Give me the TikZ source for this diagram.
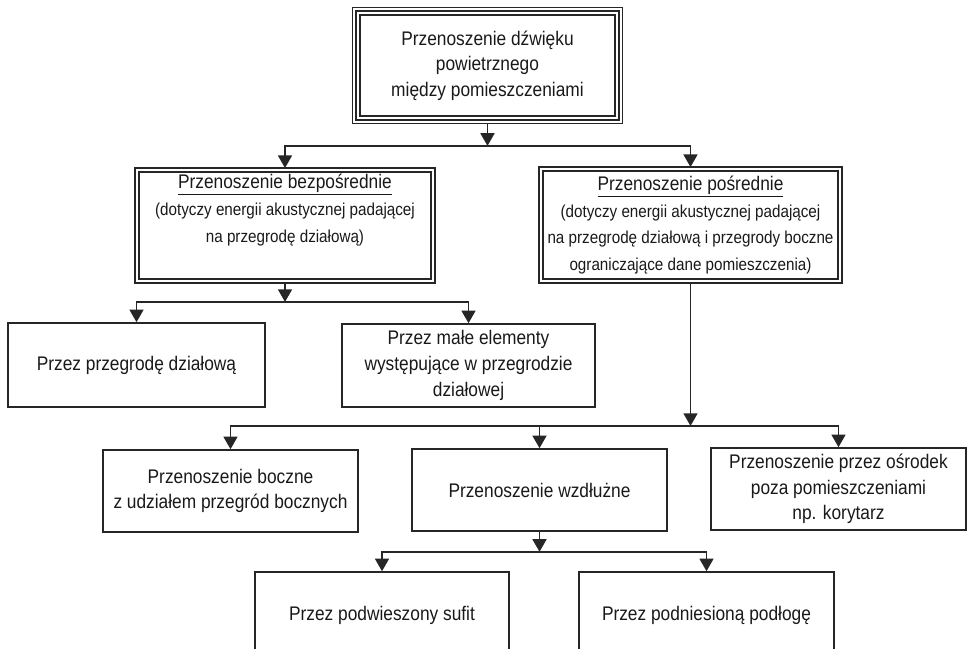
\documentclass[tikz,border=0pt]{standalone}
\usepackage{fontspec}
\setmainfont{Liberation Sans}[FakeStretch=0.88]
\usetikzlibrary{arrows.meta}
\newcommand{\bigtxt}{\fontsize{14}{18.2}\selectfont}
\newcommand{\smalltxt}{\fontsize{12.3}{19}\selectfont}
\tikzstyle{plainbox} = [rectangle, draw=black!85, line width=1.1pt, inner sep=0pt, align=center, font=\bigtxt, text=black!90]
\tikzstyle{doublebox} = [plainbox, line width=0.8pt, outer sep=0pt, font=\smalltxt]
\tikzstyle{frameline} = [draw=black!85, line width=0.8pt]
\tikzstyle{arrowline} = [draw=black!85, line width=1.1pt, -{Triangle[width=10pt,length=9pt]}]
\newcommand{\frameit}[2]{\draw [frameline] ([shift={(-#2,#2)}]#1.north west) rectangle ([shift={(#2,-#2)}]#1.south east);}

\begin{document}
\begin{tikzpicture}[x=0.025cm, y=-0.025cm]
	\clip (0,0) rectangle (967,649);
	% top level
	\node [doublebox, font=\bigtxt, minimum width=6.375cm, minimum height=2.525cm] (top) at (487.5,65.5)
		{Przenoszenie dźwięku\\ powietrznego\\ między pomieszczeniami};
	\frameit{top}{2.8pt}
	\frameit{top}{5.6pt}
	% second level
	\node [doublebox, minimum width=7.3cm, minimum height=2.675cm] (direct) at (285,225.5)
		{{\bigtxt\underline{Przenoszenie bezpośrednie}}\\ (dotyczy energii akustycznej padającej\\ na przegrodę działową)\\ \strut};
	\frameit{direct}{2.8pt}
	\node [doublebox, minimum width=7.375cm, minimum height=2.7cm] (indirect) at (690.5,225)
		{{\bigtxt\underline{Przenoszenie pośrednie}}\\ (dotyczy energii akustycznej padającej\\ na przegrodę działową i przegrody boczne\\ ograniczające dane pomieszczenia)};
	\frameit{indirect}{2.8pt}
	% third level
	\node [plainbox, minimum width=6.425cm, minimum height=2.1cm] (wall) at (136.5,365) {Przez przegrodę działową};
	\node [plainbox, minimum width=6.325cm, minimum height=2.075cm] (elements) at (468.5,365.5)
		{Przez małe elementy\\ występujące w przegrodzie\\ działowej};
	\node [plainbox, minimum width=6.375cm, minimum height=2.05cm] (side) at (230.5,491)
		{Przenoszenie boczne\\ z udziałem przegród bocznych};
	\node [plainbox, minimum width=6.375cm, minimum height=2.05cm] (along) at (539.5,490) {Przenoszenie wzdłużne};
	\node [plainbox, minimum width=6.375cm, minimum height=2.05cm] (medium) at (838.5,489)
		{Przenoszenie przez ośrodek\\ poza pomieszczeniami\\ np. korytarz};
	% bottom level
	\node [plainbox, minimum width=6.35cm, minimum height=2.15cm] (ceiling) at (382,615) {Przez podwieszony sufit};
	\node [plainbox, minimum width=6.375cm, minimum height=2.15cm] (floor) at (706.5,615) {Przez podniesioną podłogę};
	% connectors
	\draw [arrowline] ([yshift=-5.6pt]top.south) -- ++(0,22) coordinate (j1);
	\draw [arrowline, shorten >=2.8pt] (j1) -| (direct.north);
	\draw [arrowline, shorten >=2.8pt] (j1) -| (indirect.north);
	\draw [arrowline] ([yshift=-2.8pt]direct.south) -- ++(0,19) coordinate (j2);
	\draw [arrowline] (j2) -| (wall.north);
	\draw [arrowline] (j2) -| (elements.north);
	\draw [arrowline] ([yshift=-2.8pt]indirect.south) -- ++(0,143) coordinate (j3);
	\draw [arrowline] (j3) -| (side.north);
	\draw [arrowline] (j3) -| (along.north);
	\draw [arrowline] (j3) -| (medium.north);
	\draw [arrowline] (along.south) -- ++(0,20) coordinate (j4);
	\draw [arrowline] (j4) -| (ceiling.north);
	\draw [arrowline] (j4) -| (floor.north);
\end{tikzpicture}
\end{document}
